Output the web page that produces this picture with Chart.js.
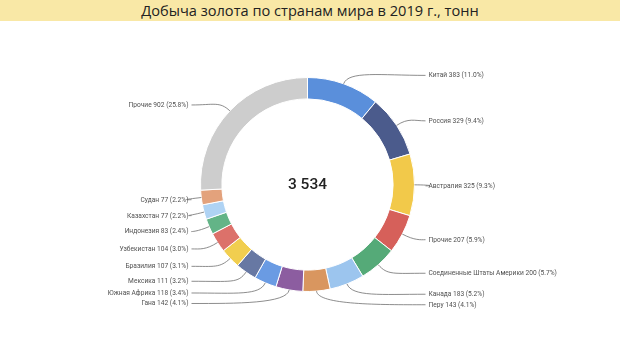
<!DOCTYPE html>
<html>
<head>
<meta charset="utf-8">
<script src="https://cdn.jsdelivr.net/npm/chart.js@4/dist/chart.umd.min.js"></script>
<style>
  html, body { margin: 0; padding: 0; background: #ffffff; }
  #wrap { position: relative; width: 620px; height: 352px; overflow: hidden; }
  #title {
    position: absolute; left: 0; top: 0; width: 620px; height: 21px;
    background: #F9E8A6; color: #222; text-align: center;
    font-family: "Open Sans", "Noto Sans", sans-serif; font-size: 14.6px; line-height: 21px;
    z-index: 2;
  }
  #c { position: absolute; left: 0; top: 0; }
</style>
</head>
<body>
<div id="wrap">
  <div id="title">Добыча золота по странам мира в 2019 г., тонн</div>
  <canvas id="c" width="620" height="352"></canvas>
</div>
<script>
const categories = [
  "Китай", "Россия", "Австралия", "Прочие", "Соединенные Штаты Америки", "Канада",
  "Перу", "Гана", "Южная Африка", "Мексика", "Бразилия", "Узбекистан",
  "Индонезия", "Казахстан", "Судан", "Прочие"
];
const production = [383, 329, 325, 207, 200, 183, 143, 142, 118, 111, 107, 104, 83, 77, 77, 902];
const centerLabel = "3 534";
const sliceColors = [
  "#5A8FDB", "#4B5B8C", "#F2C94A", "#D6605A", "#55AA78", "#9CC5EE",
  "#D9965F", "#8C5DA0", "#6A9BE3", "#6778A3", "#F1CE4F", "#DC716A",
  "#63B487", "#AFD3F4", "#E3A27C", "#CDCDCD"
];

const total = production.reduce((a, b) => a + b, 0);
const labelTexts = categories.map((c, i) =>
  c + " " + production[i] + " (" + (production[i] / total * 100).toFixed(1) + "%)");

const leaderPlugin = {
  id: "leaders",
  afterDatasetsDraw(chart) {
    const ctx = chart.ctx;
    const meta = chart.getDatasetMeta(0);
    const items = meta.data.map((arc, i) => {
      const mid = (arc.startAngle + arc.endAngle) / 2;
      const cx = arc.x, cy = arc.y, R = arc.outerRadius;
      const right = Math.cos(mid) >= 0;
      const ly = cy + 1 + (R + 10) * Math.sin(mid);
      return { i, mid, cx, cy, R, right, ly };
    });
    const minGap = 10.5;
    ["r", "l"].forEach(side => {
      const group = items.filter(it => (side === "r") === it.right).sort((a, b) => a.ly - b.ly);
      for (let k = 1; k < group.length; k++) {
        if (group[k].ly - group[k - 1].ly < minGap) group[k].ly = group[k - 1].ly + minGap;
      }
      const maxY = 306;
      if (group.length && group[group.length - 1].ly > maxY) {
        group[group.length - 1].ly = maxY;
        for (let k = group.length - 2; k >= 0; k--) {
          if (group[k + 1].ly - group[k].ly < minGap) group[k].ly = group[k + 1].ly - minGap;
        }
      }
    });
    ctx.save();
    ctx.font = '7.8px Roboto, "Noto Sans", sans-serif';
    ctx.textBaseline = "middle";
    const sx_ = 0.85;
    items.forEach(it => {
      const sx = it.cx + it.R * Math.cos(it.mid);
      const sy = it.cy + it.R * Math.sin(it.mid);
      const ex = it.right ? it.cx + 118 : it.cx - 116;
      const c1x = it.cx + (it.R + 14) * Math.cos(it.mid);
      const c1y = it.cy + (it.R + 14) * Math.sin(it.mid);
      const c2x = it.right ? Math.max(c1x + 6, ex - 45) : Math.min(c1x - 6, ex + 45);
      ctx.beginPath();
      ctx.moveTo(sx, sy);
      ctx.bezierCurveTo(c1x, c1y, c2x, it.ly, ex, it.ly);
      ctx.strokeStyle = "#707070";
      ctx.lineWidth = 0.8;
      ctx.stroke();
      ctx.fillStyle = "#505050";
      ctx.textAlign = it.right ? "left" : "right";
      const tx = it.right ? ex + 3 : ex - 3;
      ctx.save();
      ctx.translate(tx, it.ly);
      ctx.scale(sx_, 1);
      ctx.fillText(labelTexts[it.i], 0, 0);
      ctx.restore();
    });
    const a0 = meta.data[0];
    ctx.font = '500 15.5px Roboto, "DejaVu Sans", sans-serif';
    ctx.fillStyle = "#222";
    ctx.textAlign = "center";
    ctx.textBaseline = "middle";
    ctx.fillText(centerLabel, a0.x, a0.y + 1);
    ctx.restore();
  }
};

new Chart(document.getElementById("c"), {
  type: "doughnut",
  data: {
    labels: categories,
    datasets: [{
      data: production,
      backgroundColor: sliceColors,
      borderColor: "#ffffff",
      borderWidth: 1,
      hoverOffset: 0
    }]
  },
  options: {
    responsive: false,
    animation: false,
    cutout: "80%",
    layout: { padding: { top: 77, bottom: 60, left: 100, right: 105 } },
    plugins: {
      legend: { display: false },
      tooltip: { enabled: false },
      title: { display: false }
    }
  },
  plugins: [leaderPlugin]
});
</script>
</body>
</html>
